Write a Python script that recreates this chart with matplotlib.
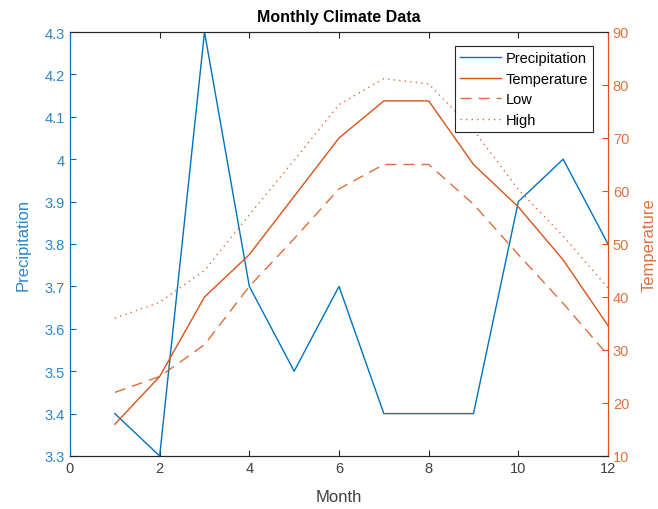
import matplotlib
matplotlib.use("Agg")
import matplotlib.pyplot as plt

plt.rcParams['font.family'] = ['Liberation Sans', 'DejaVu Sans']

months = [1, 2, 3, 4, 5, 6, 7, 8, 9, 10, 11, 12]
precipitation = [3.4, 3.3, 4.3, 3.7, 3.5, 3.7, 3.4, 3.4, 3.4, 3.9, 4.0, 3.8]
temperature = [16, 25, 40, 48, 59, 70, 77, 77, 65, 57, 47, 34.6]
low = [22, 25, 31, 42, 51, 60.4, 65, 65, 57.5, 48, 38.8, 29]
high = [36, 39, 45, 55.5, 65.8, 76.3, 81.2, 80.2, 71.5, 60.3, 51.5, 41.7]

x_ticks = [0, 2, 4, 6, 8, 10, 12]
left_ticks = [3.3, 3.4, 3.5, 3.6, 3.7, 3.8, 3.9, 4.0, 4.1, 4.2, 4.3]
left_labels = ['3.3', '3.4', '3.5', '3.6', '3.7', '3.8', '3.9', '4', '4.1', '4.2', '4.3']
right_ticks = [10, 20, 30, 40, 50, 60, 70, 80, 90]

blue = '#0072BD'
orange = '#D95319'
blue_txt = '#2a86cc'
orange_txt = '#e0703f'
dark = '#262626'

fig = plt.figure(figsize=(6.58, 5.10), dpi=100)
ax = fig.add_axes([70/658, 53/510, 538/658, 424/510])
ax2 = ax.twinx()

l1, = ax.plot(months, precipitation, color=blue, lw=1.0, label='Precipitation')
l2, = ax2.plot(months, temperature, color=orange, lw=1.0, label='Temperature')
l3, = ax2.plot(months, low, color=orange, lw=1.0, ls=(0, (8, 5)), alpha=0.85, label='Low')
l4, = ax2.plot(months, high, color=orange, lw=1.0, ls=(0, (1, 3)), alpha=0.85, label='High')

ax.set_xlim(0, 12)
ax.set_ylim(3.3, 4.3)
ax2.set_ylim(10, 90)
ax.set_xticks(x_ticks)
ax.set_yticks(left_ticks)
ax.set_yticklabels(left_labels)
ax2.set_yticks(right_ticks)

ax.tick_params(axis='x', direction='in', colors=dark, labelcolor='#404040', labelsize=10.5, top=True, length=4)
ax.tick_params(axis='y', direction='in', colors=blue, labelcolor=blue_txt, labelsize=10.5, length=4)
ax2.tick_params(axis='y', direction='in', colors=orange, labelcolor=orange_txt, labelsize=10.5, length=4)

for a in (ax, ax2):
    a.spines['top'].set_color(dark)
    a.spines['bottom'].set_color(dark)
    a.spines['left'].set_color(blue)
    a.spines['right'].set_color(orange)
    for s in a.spines.values():
        s.set_linewidth(0.8)

ax.set_xlabel('Month', fontsize=12, color='#404040', labelpad=10)
ax.set_ylabel('Precipitation', fontsize=12, color=blue_txt, labelpad=10)
ax2.set_ylabel('Temperature', fontsize=12, color=orange_txt, labelpad=9)
ax.set_title('Monthly Climate Data', fontsize=11.5, fontweight='bold', pad=8)

leg = ax2.legend(handles=[l1, l2, l3, l4], loc='upper right',
                 bbox_to_anchor=(0.972, 0.967), borderaxespad=0,
                 fancybox=False, framealpha=1, edgecolor=dark,
                 fontsize=10.5, handlelength=2.8, handletextpad=0.3,
                 labelspacing=0.45, borderpad=0.35)
leg.get_frame().set_linewidth(0.8)

fig.savefig('out.png', dpi=100)
